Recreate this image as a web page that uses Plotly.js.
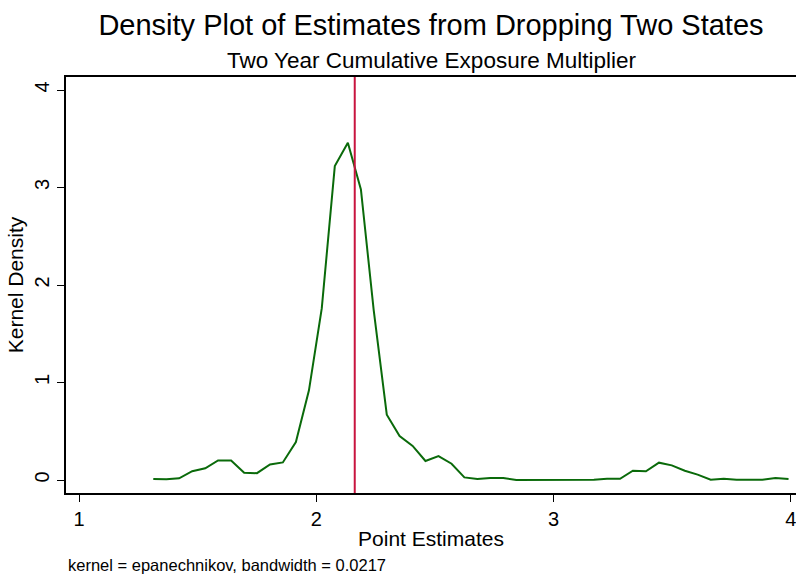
<!DOCTYPE html>
<html>
<head>
<meta charset="utf-8">
<script src="https://cdn.plot.ly/plotly-3.0.1.min.js"></script>
<style>html,body{margin:0;padding:0;background:#fff;}#chart{width:796px;height:575px;}</style>
</head>
<body>
<div id="chart"></div>
<script>
// Evaluation points of the kernel density (Stata default: 50 points)
const pointEstimates = [
  1.313, 1.368, 1.422, 1.477, 1.532, 1.586, 1.641, 1.696, 1.750, 1.805,
  1.859, 1.914, 1.969, 2.023, 2.078, 2.133, 2.188, 2.242, 2.297, 2.351,
  2.406, 2.460, 2.515, 2.570, 2.624, 2.679, 2.733, 2.788, 2.843, 2.897,
  2.952, 3.007, 3.061, 3.116, 3.170, 3.225, 3.280, 3.334, 3.389, 3.444,
  3.498, 3.553, 3.607, 3.662, 3.717, 3.771, 3.826, 3.880, 3.935, 3.990
];
const kernelDensity = [
  0.010, 0.007, 0.017, 0.090, 0.120, 0.200, 0.200, 0.075, 0.070, 0.160,
  0.180, 0.390, 0.920, 1.760, 3.220, 3.460, 2.980, 1.740, 0.670, 0.450,
  0.350, 0.195, 0.246, 0.167, 0.027, 0.010, 0.020, 0.020, 0.000, 0.000,
  0.000, 0.000, 0.000, 0.000, 0.003, 0.013, 0.013, 0.095, 0.090, 0.178,
  0.150, 0.095, 0.055, 0.003, 0.013, 0.003, 0.003, 0.003, 0.020, 0.010
];
const referenceEstimate = 2.162;
const xTicks = [1, 2, 3, 4];
const yTicks = [0, 1, 2, 3, 4];

const FONT = "'Liberation Sans', Arial, Helvetica, sans-serif";

const trace = {
  x: pointEstimates,
  y: kernelDensity,
  type: 'scatter',
  mode: 'lines',
  line: {color: '#0a6a0a', width: 2},
  hoverinfo: 'x+y',
  showlegend: false
};

const layout = {
  width: 796, height: 575,
  margin: {l: 66, r: 0, t: 77, b: 82},
  paper_bgcolor: '#ffffff',
  plot_bgcolor: '#ffffff',
  font: {family: FONT, color: '#000000'},
  title: {
    text: 'Density Plot of Estimates from Dropping Two States',
    font: {family: FONT, size: 29, color: '#000000'},
    x: 431/796, xref: 'container', xanchor: 'center',
    y: 1 - 25/575, yref: 'container', yanchor: 'middle'
  },
  xaxis: {
    range: [0.9452, 4.0215],
    tickvals: xTicks,
    ticktext: xTicks.map(String),
    ticklabeloverflow: 'allow',
    ticks: 'outside', ticklen: 7, tickwidth: 1, tickcolor: '#000',
    tickfont: {family: FONT, size: 20, color: '#000'},
    showline: true, linecolor: '#000', linewidth: 1.5, mirror: true,
    showgrid: false, zeroline: false,
    title: {text: 'Point Estimates', font: {family: FONT, size: 21, color: '#000'}, standoff: 3}
  },
  yaxis: {
    range: [-0.1333, 4.1333],
    tickvals: yTicks,
    ticktext: yTicks.map(String),
    tickangle: -90,
    ticks: 'outside', ticklen: 7, tickwidth: 1, tickcolor: '#000',
    tickfont: {family: FONT, size: 20, color: '#000'},
    showline: true, linecolor: '#000', linewidth: 1.5, mirror: false,
    showgrid: false, zeroline: false,
    title: {text: 'Kernel Density', font: {family: FONT, size: 21, color: '#000'}, standoff: 2}
  },
  shapes: [{
    type: 'line', xref: 'x', yref: 'paper',
    x0: referenceEstimate, x1: referenceEstimate, y0: 0, y1: 1,
    line: {color: '#c8143f', width: 2}
  }],
  annotations: [
    {
      text: 'Two Year Cumulative Exposure Multiplier',
      xref: 'paper', yref: 'paper', x: 0.5, y: 1, xanchor: 'center', yanchor: 'bottom',
      yshift: 2, showarrow: false,
      font: {family: FONT, size: 22.5, color: '#000'}
    },
    {
      text: 'kernel = epanechnikov, bandwidth = 0.0217',
      xref: 'paper', yref: 'paper', x: 0, y: 0, xanchor: 'left', yanchor: 'top',
      yshift: -61, showarrow: false,
      font: {family: FONT, size: 16.5, color: '#000'}
    }
  ]
};

Plotly.newPlot('chart', [trace], layout, {displayModeBar: false, responsive: false});
</script>
</body>
</html>
